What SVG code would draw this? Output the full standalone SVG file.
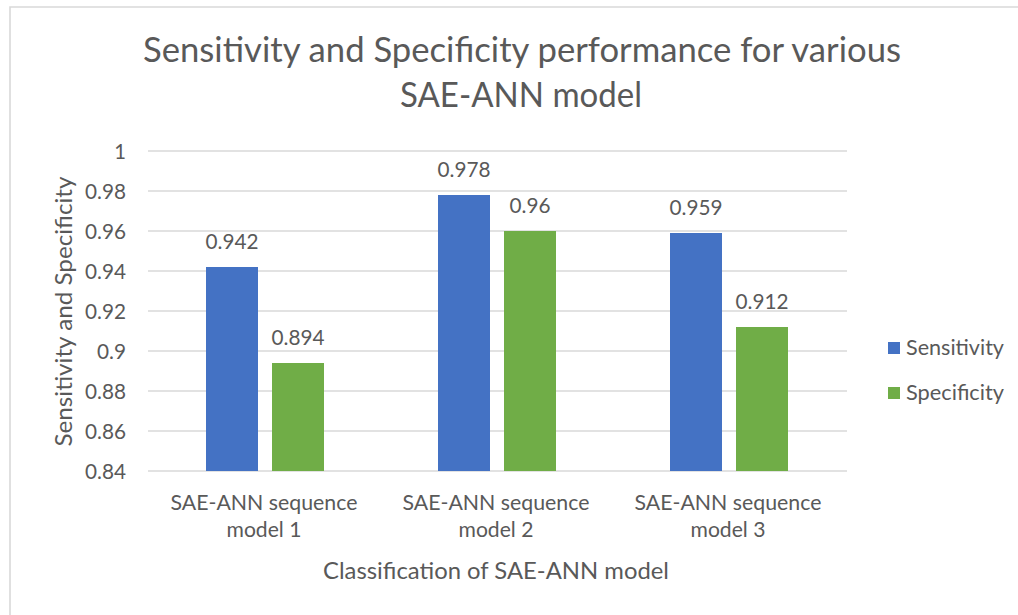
<svg xmlns="http://www.w3.org/2000/svg" width="1018" height="615" viewBox="0 0 1018 615">
<style>
text{font-family:Lato,"Liberation Sans",sans-serif;fill:#595959}
.title{font-size:35px;text-anchor:middle}
.tick{font-size:20.5px;text-anchor:end}
.dl{font-size:20.5px;text-anchor:middle}
.cat{font-size:21px;text-anchor:middle}
.axt{font-size:23.5px;text-anchor:middle}
.leg{font-size:21.5px}
.grid{stroke:#d9d9d9;stroke-width:1.3;fill:none}
.s1{fill:#4472C4}
.s2{fill:#70AD47}
</style>
<rect x="0" y="0" width="1018" height="615" fill="#ffffff"/>
<path d="M10,615 V7 H1018" fill="none" stroke="#d9d9d9" stroke-width="1.6"/>
<g id="title">
<text class="title" x="522" y="62" textLength="758" lengthAdjust="spacingAndGlyphs">Sensitivity and Specificity performance for various</text>
<text class="title" x="521" y="107" textLength="242" lengthAdjust="spacingAndGlyphs">SAE-ANN model</text>
</g>
<g id="gridlines">
<line class="grid" x1="148" y1="151" x2="847" y2="151"/>
<line class="grid" x1="148" y1="191" x2="847" y2="191"/>
<line class="grid" x1="148" y1="231" x2="847" y2="231"/>
<line class="grid" x1="148" y1="271" x2="847" y2="271"/>
<line class="grid" x1="148" y1="311" x2="847" y2="311"/>
<line class="grid" x1="148" y1="351" x2="847" y2="351"/>
<line class="grid" x1="148" y1="391" x2="847" y2="391"/>
<line class="grid" x1="148" y1="431" x2="847" y2="431"/>
<line class="grid" x1="148" y1="471" x2="847" y2="471"/>
</g>
<g id="y-axis">
<text class="tick" x="126" y="158.5" textLength="11.7" lengthAdjust="spacingAndGlyphs">1</text>
<text class="tick" x="126" y="198.5" textLength="41" lengthAdjust="spacingAndGlyphs">0.98</text>
<text class="tick" x="126" y="238.5" textLength="41" lengthAdjust="spacingAndGlyphs">0.96</text>
<text class="tick" x="126" y="278.5" textLength="41" lengthAdjust="spacingAndGlyphs">0.94</text>
<text class="tick" x="126" y="318.5" textLength="41" lengthAdjust="spacingAndGlyphs">0.92</text>
<text class="tick" x="126" y="358.5" textLength="29" lengthAdjust="spacingAndGlyphs">0.9</text>
<text class="tick" x="126" y="398.5" textLength="41" lengthAdjust="spacingAndGlyphs">0.88</text>
<text class="tick" x="126" y="438.5" textLength="41" lengthAdjust="spacingAndGlyphs">0.86</text>
<text class="tick" x="126" y="478.5" textLength="41" lengthAdjust="spacingAndGlyphs">0.84</text>
<text class="axt" x="72" y="311.5" transform="rotate(-90 72 311.5)" textLength="270" lengthAdjust="spacingAndGlyphs">Sensitivity and Specificity</text>
</g>
<g id="bar-model1">
<rect class="s1" x="206" y="267" width="52" height="204"/>
<rect class="s2" x="272" y="363" width="52" height="108"/>
<text class="dl" x="232" y="249" textLength="53" lengthAdjust="spacingAndGlyphs">0.942</text>
<text class="dl" x="298" y="345" textLength="53" lengthAdjust="spacingAndGlyphs">0.894</text>
</g>
<g id="bar-model2">
<rect class="s1" x="438" y="195" width="52" height="276"/>
<rect class="s2" x="504" y="231" width="52" height="240"/>
<text class="dl" x="464" y="177" textLength="53" lengthAdjust="spacingAndGlyphs">0.978</text>
<text class="dl" x="530" y="213" textLength="41" lengthAdjust="spacingAndGlyphs">0.96</text>
</g>
<g id="bar-model3">
<rect class="s1" x="670" y="233" width="52" height="238"/>
<rect class="s2" x="736" y="327" width="52" height="144"/>
<text class="dl" x="696" y="215" textLength="53" lengthAdjust="spacingAndGlyphs">0.959</text>
<text class="dl" x="762" y="309" textLength="53" lengthAdjust="spacingAndGlyphs">0.912</text>
</g>
<g id="x-axis">
<text class="cat" x="264" y="510" textLength="187" lengthAdjust="spacingAndGlyphs">SAE-ANN sequence</text>
<text class="cat" x="264" y="537" textLength="75" lengthAdjust="spacingAndGlyphs">model 1</text>
<text class="cat" x="496" y="510" textLength="187" lengthAdjust="spacingAndGlyphs">SAE-ANN sequence</text>
<text class="cat" x="496" y="537" textLength="75" lengthAdjust="spacingAndGlyphs">model 2</text>
<text class="cat" x="728" y="510" textLength="187" lengthAdjust="spacingAndGlyphs">SAE-ANN sequence</text>
<text class="cat" x="728" y="537" textLength="75" lengthAdjust="spacingAndGlyphs">model 3</text>
<text class="axt" x="496" y="578.5" textLength="346" lengthAdjust="spacingAndGlyphs">Classification of SAE-ANN model</text>
</g>
<g id="legend">
<rect class="s1" x="888" y="342" width="12" height="12"/>
<text class="leg" x="906" y="355" textLength="98" lengthAdjust="spacingAndGlyphs">Sensitivity</text>
<rect class="s2" x="888" y="387" width="12" height="12"/>
<text class="leg" x="906" y="400" textLength="98" lengthAdjust="spacingAndGlyphs">Specificity</text>
</g>
</svg>
